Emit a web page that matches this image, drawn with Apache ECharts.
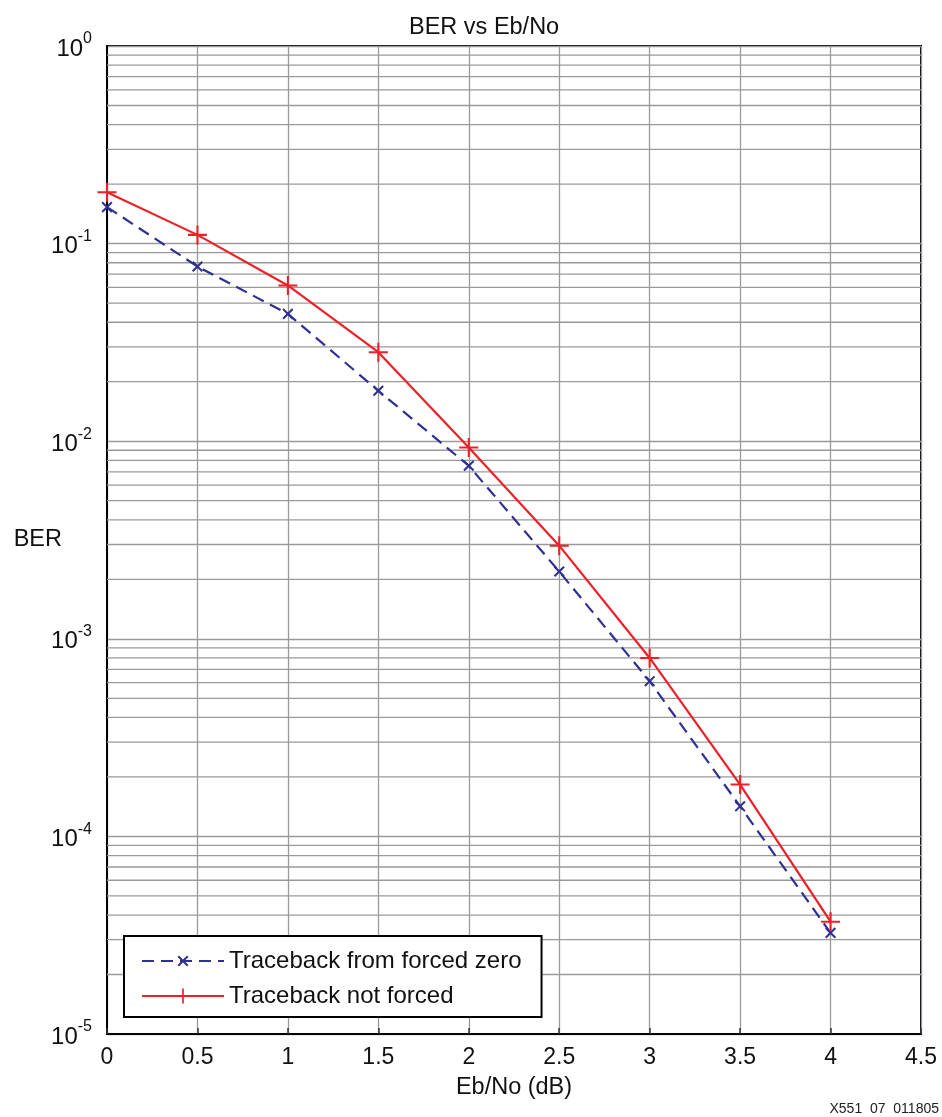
<!DOCTYPE html>
<html>
<head>
<meta charset="utf-8">
<title>BER vs Eb/No</title>
<script src="https://cdn.jsdelivr.net/npm/echarts@6/dist/echarts.min.js"></script>
<style>
  html, body { margin: 0; padding: 0; background: #fff; }
  #main { width: 942px; height: 1117px; }
</style>
</head>
<body>
<div id="main"></div>
<script>
// Eb/No points (dB)
var ebno = [0, 0.5, 1, 1.5, 2, 2.5, 3, 3.5, 4];
// BER
var berForcedZero = [0.153, 0.0766, 0.0441, 0.0180, 0.00751, 0.00219, 0.00061, 0.000142, 0.0000325];
var berNotForced  = [0.182, 0.1107, 0.0614, 0.0282, 0.00929, 0.00296, 0.00080, 0.000183, 0.0000370];
var seriesNames = ['Traceback from forced zero', 'Traceback not forced'];
// minor log grid mantissas
var mantissas = [2, 3, 4, 5, 6, 7, 8, 9];
var decades = [-5, -4, -3, -2, -1];

var FONT = "'Liberation Sans', Arial, Helvetica, sans-serif";
var GRID_GRAY = '#9a9a9a';
var BLUE = '#2e3192';
var RED = '#ee1f26';

function pairs(xs, ys) {
  return xs.map(function (x, i) { return [x, ys[i]]; });
}

// minor grid rows (2..9 x 10^d)
var minorRows = [];
decades.forEach(function (d) {
  mantissas.forEach(function (m) {
    minorRows.push([0, m * Math.pow(10, d)]);
  });
});

var chart = echarts.init(document.getElementById('main'));

var option = {
  animation: false,
  textStyle: { fontFamily: FONT },
  title: {
    text: 'BER vs Eb/No',
    left: 404,
    top: 11,
    textStyle: { fontFamily: FONT, fontSize: 23.5, fontWeight: 'normal', color: '#111' }
  },
  grid: {
    left: 107,
    right: 21,
    top: 46,
    bottom: 83,
    outerBoundsMode: 'none',
    containLabel: false,
    show: true,
    borderColor: '#000',
    borderWidth: 2,
    backgroundColor: '#fff'
  },
  legend: {
    data: seriesNames,
    orient: 'vertical',
    left: 124,
    top: 936,
    itemWidth: 82,
    itemHeight: 19,
    itemGap: 11,
    padding: [13, 20, 9, 17],
    borderColor: '#000',
    borderWidth: 2,
    backgroundColor: '#fff',
    textStyle: { fontFamily: FONT, fontSize: 24, color: '#111' }
  },
  xAxis: {
    type: 'value',
    min: 0,
    max: 4.5,
    interval: 0.5,
    name: 'Eb/No (dB)',
    nameLocation: 'middle',
    nameGap: 42,
    nameMoveOverlap: false,
    nameTextStyle: { fontFamily: FONT, fontSize: 23.5, color: '#111' },
    axisLine: { lineStyle: { color: '#000', width: 2 } },
    axisTick: { inside: true, length: 6, lineStyle: { color: '#333', width: 1.5 } },
    axisLabel: { margin: 12, fontFamily: FONT, fontSize: 23, color: '#111' },
    splitLine: { show: true, lineStyle: { color: GRID_GRAY, width: 1.3 } }
  },
  yAxis: {
    type: 'log',
    logBase: 10,
    min: 1e-5,
    max: 1,
    name: 'BER',
    nameLocation: 'middle',
    nameRotate: 0,
    nameGap: 45,
    nameMoveOverlap: false,
    nameTextStyle: { fontFamily: FONT, fontSize: 23.5, color: '#111', padding: [0, 0, 28, 0] },
    axisLine: { lineStyle: { color: '#000', width: 2 } },
    axisTick: { show: false },
    axisLabel: {
      margin: 15,
      formatter: function (v) {
        var e = Math.round(Math.log10(v));
        return '{b|10}{s|' + e + '}';
      },
      rich: {
        b: { fontFamily: FONT, fontSize: 24, color: '#111', lineHeight: 30, verticalAlign: 'bottom' },
        s: { fontFamily: FONT, fontSize: 16, color: '#111', lineHeight: 30, verticalAlign: 'top', padding: [0, 0, 10, 0] }
      }
    },
    splitLine: { show: true, lineStyle: { color: GRID_GRAY, width: 1.3 } }
  },
  graphic: [{
    type: 'text',
    right: 3,
    bottom: 1,
    style: { text: 'X551  07  011805', fontFamily: FONT, fontSize: 14, fill: '#222' }
  }],
  series: [
    {
      // minor log grid lines
      type: 'custom',
      z: 1,
      silent: true,
      data: minorRows,
      renderItem: function (params, api) {
        var cs = params.coordSys;
        var y = api.coord([0, api.value(1)])[1];
        return {
          type: 'line',
          silent: true,
          shape: { x1: cs.x, y1: y, x2: cs.x + cs.width, y2: y },
          style: { stroke: GRID_GRAY, lineWidth: 1.3 }
        };
      }
    },
    {
      name: seriesNames[0],
      type: 'line',
      z: 3,
      data: pairs(ebno, berForcedZero),
      // x marker padded so the legend copy stays small
      symbol: 'path://M-2,-2 L-2,-2 M12,12 L12,12 M0,1.3 L1.3,0 L10,8.7 L8.7,10 Z M8.7,0 L10,1.3 L1.3,10 L0,8.7 Z',
      symbolSize: 15.5,
      itemStyle: { color: BLUE },
      lineStyle: { color: BLUE, width: 2.2, type: [12, 7] }
    },
    {
      name: seriesNames[1],
      type: 'line',
      z: 4,
      data: pairs(ebno, berNotForced),
      symbol: 'path://M0,4.45 H10 V5.55 H0 Z M4.45,0 H5.55 V10 H4.45 Z',
      symbolSize: 19,
      itemStyle: { color: RED },
      lineStyle: { color: RED, width: 2.2 }
    }
  ]
};

chart.setOption(option);
</script>
</body>
</html>
